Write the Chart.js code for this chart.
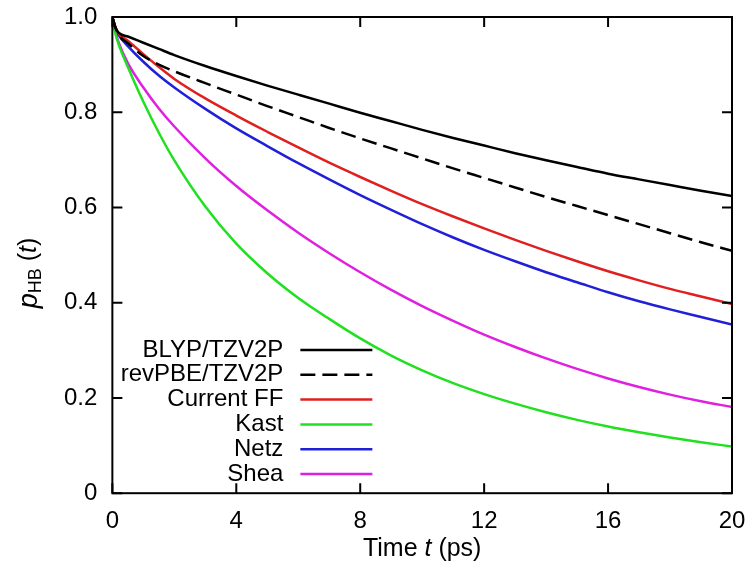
<!DOCTYPE html>
<html>
<head>
<meta charset="utf-8">
<script src="https://cdn.jsdelivr.net/npm/chart.js@4/dist/chart.umd.min.js"></script>
<style>
  html, body { margin: 0; padding: 0; background: #fff; }
  #wrap { width: 745px; height: 568px; }
</style>
</head>
<body>
<div id="wrap"><canvas id="hb-chart" width="745" height="568"></canvas></div>
<script>
// time axis (ps)
const times = [0, 0.1, 0.2, 0.5, 1, 1.5, 2, 3, 4, 5, 6, 7, 8, 9, 10, 11, 12, 13, 14, 15, 16, 17, 18, 19, 20];

// p_HB(t)
const blyp    = [1.0, 0.978, 0.967, 0.959, 0.946, 0.933, 0.920, 0.897, 0.876, 0.856, 0.837, 0.818, 0.799, 0.781, 0.763, 0.746, 0.730, 0.714, 0.699, 0.685, 0.671, 0.659, 0.647, 0.635, 0.624];
const revpbe  = [1.0, 0.978, 0.963, 0.945, 0.918, 0.900, 0.886, 0.861, 0.837, 0.813, 0.790, 0.767, 0.745, 0.724, 0.703, 0.682, 0.662, 0.642, 0.622, 0.603, 0.584, 0.565, 0.546, 0.527, 0.509];
const current = [1.0, 0.978, 0.966, 0.950, 0.922, 0.895, 0.870, 0.829, 0.793, 0.759, 0.726, 0.694, 0.664, 0.635, 0.607, 0.581, 0.556, 0.532, 0.509, 0.487, 0.466, 0.447, 0.429, 0.413, 0.397];
const kast    = [1.0, 0.965, 0.943, 0.895, 0.822, 0.757, 0.699, 0.602, 0.524, 0.462, 0.410, 0.366, 0.325, 0.289, 0.258, 0.231, 0.208, 0.188, 0.170, 0.154, 0.140, 0.128, 0.117, 0.107, 0.098];
const netz    = [1.0, 0.975, 0.962, 0.939, 0.906, 0.877, 0.852, 0.807, 0.766, 0.729, 0.693, 0.659, 0.626, 0.595, 0.565, 0.537, 0.511, 0.487, 0.464, 0.443, 0.422, 0.403, 0.386, 0.370, 0.354];
const shea    = [1.0, 0.968, 0.947, 0.903, 0.852, 0.808, 0.770, 0.703, 0.645, 0.594, 0.547, 0.504, 0.464, 0.427, 0.393, 0.362, 0.333, 0.307, 0.283, 0.261, 0.241, 0.223, 0.207, 0.193, 0.181];

const xTicks = [0, 4, 8, 12, 16, 20];
const yTicks = [0, 0.2, 0.4, 0.6, 0.8, 1.0];

const FONT = '"Liberation Sans", Arial, Helvetica, sans-serif';

function series(label, values, color, dash) {
    return {
        label: label,
        data: values.map((v, i) => ({ x: times[i], y: v })),
        borderColor: color,
        borderWidth: 2.5,
        borderDash: dash || [],
        pointRadius: 0,
        fill: false,
        cubicInterpolationMode: 'monotone'
    };
}

// draws text made of pieces with their own font, centred on x
function drawPieces(ctx, parts, cx, cy) {
    let total = 0;
    parts.forEach(p => { ctx.font = p[1] + ' ' + FONT; total += ctx.measureText(p[0]).width; });
    let x = cx - total / 2;
    ctx.textAlign = 'left';
    parts.forEach(p => {
        ctx.font = p[1] + ' ' + FONT;
        ctx.fillText(p[0], x, cy + (p[2] || 0));
        x += ctx.measureText(p[0]).width;
    });
}

// box, inward ticks, axis titles and legend, gnuplot style
const gnuplotFrame = {
    id: 'gnuplotFrame',
    afterDraw(chart) {
        const { ctx, chartArea: a, scales } = chart;
        ctx.save();
        ctx.strokeStyle = '#000';
        ctx.lineWidth = 2;
        ctx.strokeRect(a.left, a.top, a.right - a.left, a.bottom - a.top);

        const len = 10;
        ctx.beginPath();
        xTicks.forEach(v => {
            const px = scales.x.getPixelForValue(v);
            ctx.moveTo(px, a.bottom); ctx.lineTo(px, a.bottom - len);
            ctx.moveTo(px, a.top); ctx.lineTo(px, a.top + len);
        });
        yTicks.forEach(v => {
            const py = scales.y.getPixelForValue(v);
            ctx.moveTo(a.left, py); ctx.lineTo(a.left + len, py);
            ctx.moveTo(a.right, py); ctx.lineTo(a.right - len, py);
        });
        ctx.stroke();

        ctx.fillStyle = '#000';
        ctx.textBaseline = 'middle';
        // x title: Time t (ps)
        drawPieces(ctx, [['Time ', 'normal 25px'], ['t', 'italic 25px'], [' (ps)', 'normal 25px']],
            (a.left + a.right) / 2, 549);

        // y title: p_HB (t)
        ctx.save();
        ctx.translate(29, 273);
        ctx.rotate(-Math.PI / 2);
        drawPieces(ctx, [['p', 'italic 27px'], ['HB', 'normal 18px', 7], [' (', 'normal 25px'], ['t', 'italic 25px'], [')', 'normal 25px']], 0, 0);
        ctx.restore();

        // legend
        chart.data.datasets.forEach((ds, i) => {
            const ly = a.top + 333 + i * 24.8;
            ctx.font = 'normal 24px ' + FONT;
            ctx.textAlign = 'right';
            ctx.fillStyle = '#000';
            ctx.fillText(ds.label, a.left + 171, ly);
            ctx.beginPath();
            ctx.strokeStyle = ds.borderColor;
            ctx.lineWidth = 2.5;
            ctx.setLineDash(ds.borderDash);
            ctx.moveTo(a.left + 188, ly);
            ctx.lineTo(a.left + 260, ly);
            ctx.stroke();
            ctx.setLineDash([]);
        });
        ctx.restore();
    }
};

new Chart(document.getElementById('hb-chart'), {
    type: 'line',
    data: {
        datasets: [
            series('BLYP/TZV2P', blyp, '#000000'),
            series('revPBE/TZV2P', revpbe, '#000000', [15, 7]),
            series('Current FF', current, '#e02020'),
            series('Kast', kast, '#20e020'),
            series('Netz', netz, '#2020d8'),
            series('Shea', shea, '#e020e0')
        ]
    },
    options: {
        responsive: false,
        animation: false,
        layout: { padding: { left: 49, right: 13, top: 17, bottom: 18 } },
        plugins: { legend: { display: false }, tooltip: { enabled: false } },
        scales: {
            x: {
                type: 'linear', min: 0, max: 20,
                afterBuildTicks: s => { s.ticks = xTicks.map(v => ({ value: v })); },
                // labels may overhang the plot edges, as in gnuplot
                afterFit: s => { s.paddingLeft = 0; s.paddingRight = 0; },
                grid: { display: false, drawTicks: false },
                border: { display: false },
                ticks: { color: '#000', padding: 14, maxRotation: 0, font: { family: FONT, size: 24 } }
            },
            y: {
                type: 'linear', min: 0, max: 1,
                afterBuildTicks: s => { s.ticks = yTicks.map(v => ({ value: v })); },
                afterFit: s => { s.paddingTop = 0; s.paddingBottom = 0; },
                grid: { display: false, drawTicks: false },
                border: { display: false },
                ticks: {
                    color: '#000', padding: 15, font: { family: FONT, size: 24 },
                    callback: v => v === 0 ? '0' : v.toFixed(1)
                }
            }
        }
    },
    plugins: [gnuplotFrame]
});
</script>
</body>
</html>
